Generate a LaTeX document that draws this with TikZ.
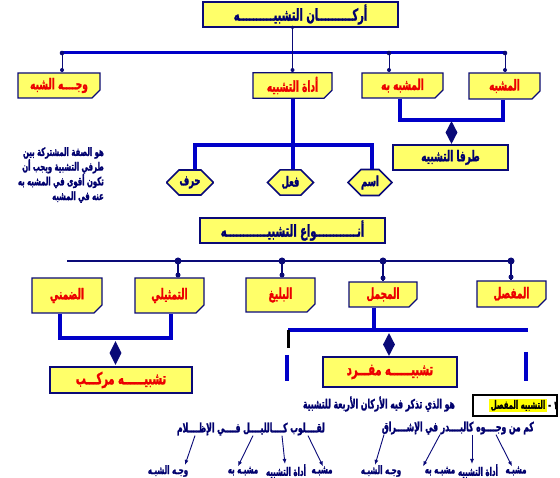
\documentclass[tikz,border=0pt]{standalone}
\usepackage{fontspec}
\usepackage{xcolor}
\usepackage{tikz}
\usetikzlibrary{shapes.misc}
\usetikzlibrary{shapes.geometric}
\usetikzlibrary{arrows.meta}
\TeXXeTstate=1
\newfontfamily\arabicfont[Script=Arabic,FakeStretch=0.6,BoldFeatures={FakeBold=1.5}]{DejaVu Sans}
\newcommand{\artext}[1]{\beginR#1\endR}
\definecolor{boxyellow}{RGB}{255,255,105}
\definecolor{navyline}{RGB}{10,10,120}
\definecolor{barblue}{RGB}{0,0,200}
\definecolor{redtext}{RGB}{235,0,0}
\definecolor{navytext}{RGB}{0,0,110}
\definecolor{hiyellow}{RGB}{255,255,0}
\tikzset{box/.style={draw=navyline,line width=1.3pt,fill=boxyellow,inner sep=0pt,
   text=redtext,font=\arabicfont\bfseries\fontsize{15}{17}\selectfont},
 notebox/.style={box,chamfered rectangle,chamfered rectangle corners=south east,
   chamfered rectangle xsep=4pt,chamfered rectangle ysep=4pt,
   path picture={\draw[navyline,line width=0.8pt,fill=boxyellow!50!white]
     ([xshift=-4pt]path picture bounding box.south east) -- ++(0pt,4pt) -- ++(4pt,0pt);}},
 plainbox/.style={box,rectangle,line width=1.6pt},
 bigbox/.style={plainbox,font=\arabicfont\bfseries\fontsize{16.5}{18}\selectfont},
 octo/.style={box,chamfered rectangle,chamfered rectangle xsep=7pt,chamfered rectangle ysep=6pt,
   line width=1.6pt,minimum width=46pt,minimum height=25pt,text=navytext,
   font=\arabicfont\bfseries\fontsize{14}{16}\selectfont},
 bar/.style={draw=barblue,line width=4pt},
 topbar/.style={draw=barblue,line width=3pt},
 thinline/.style={draw=navyline,line width=1pt},
 rowline/.style={draw=navyline,line width=2pt},
 stub/.style={draw=navyline,line width=2.5pt},
 diam/.style={diamond,fill=navyline,inner sep=0pt,minimum width=12pt,minimum height=23pt},
 arr/.style={draw=navyline,line width=0.9pt,-{Latex[length=5pt,width=4pt]}},
 bluetext/.style={text=navytext,inner sep=0pt,font=\arabicfont\bfseries\fontsize{12.8}{14}\selectfont},
 labeltext/.style={bluetext,font=\arabicfont\bfseries\fontsize{11.7}{13}\selectfont},
 }

\begin{document}
\begin{tikzpicture}[x=1pt,y=-1pt]
        \fill[white] (0,0) rectangle (560,478);
        \useasboundingbox (0,0) rectangle (560,478);
        % top row
        \node[bigbox,text=navytext,minimum width=195pt,minimum height=25pt] (arkan) at (300.5,14.5) {\artext{أركــــــــــان التشبيــــــــــه}};
        \node[notebox,minimum width=82pt,minimum height=25pt] (wajh) at (59,85.5) {\artext{وجــــه الشبه}};
        \node[notebox,minimum width=79pt,minimum height=25pt] (adah) at (292.5,85.5) {\artext{أداة التشبيه}};
        \node[notebox,minimum width=81pt,minimum height=25pt] (mbih) at (402.5,85.5) {\artext{المشبه به}};
        \node[notebox,minimum width=71pt,minimum height=26pt] (mush) at (504.5,86) {\artext{المشبه}};
        \coordinate (topL) at (62,53);
        \coordinate (topM) at (389,53);
        \coordinate (topR) at (505,53);
        \draw[topbar] (topL) -- (topR);
        \draw[thinline] (topL) -- (topL |- wajh.north);
        \draw[thinline] (topM) -- (topM |- mbih.north);
        \draw[thinline] (topR) -- (topR |- mush.north);
        \draw[thinline] (adah.north |- arkan.south) -- (adah.north);
        \fill[navyline] (topL) circle (2.3pt);
        \fill[navyline] (topM) circle (2.3pt);
        \fill[navyline] (topR) circle (2.3pt);
        \fill[navyline] (62,70) circle (2pt);
        \fill[navyline] (389,70) circle (2pt);
        \fill[navyline] (505,70) circle (2pt);
        \fill[navyline] (292.5,70) circle (2pt);
        \fill[navyline] (292.5,27.5) circle (1.8pt);
        % two sides
        \draw[bar] (mbih.south -| 400,0) |- (503,120) -- (mush.south -| 503,0);
        \node[diam] (dtaraf) at (451.5,132.5) {};
        \node[plainbox,text=navytext,minimum width=115pt,minimum height=25pt] (taraf) at (450.5,157.5) {\artext{طرفا التشبيه}};
        % tool
        \node[octo] (harf) at (190,182.5) {\artext{حرف}};
        \node[octo] (fiil) at (290.5,182.5) {\artext{فعل}};
        \node[octo,minimum width=44pt] (ism) at (370,182.5) {\artext{اسم}};
        \draw[bar] (adah.south) -- (adah.south |- fiil.north);
        \draw[bar] (harf.north -| 195,0) |- (372,145) -- (ism.north -| 372,0);
        \node[bluetext,align=right,anchor=north east,
          font=\arabicfont\bfseries\fontsize{11.5}{14.7}\selectfont] (desc) at (104,147)
          {\artext{هو الصفة المشتركة بين}\\\artext{طرفي التشبية ويجب أن}\\\artext{تكون أقوى في المشبه به}\\\artext{عنه في المشبه}};
        % kinds
        \node[bigbox,text=navytext,minimum width=185pt,minimum height=25pt] (anwa) at (292.5,230.5) {\artext{أنــــــــــــواع التشبيــــــــــــه}};
        \node[notebox,minimum width=70pt,minimum height=35pt] (dimni) at (67,295.5) {\artext{الضمني}};
        \node[notebox,minimum width=69pt,minimum height=35pt] (tamth) at (169.5,295.5) {\artext{التمثيلي}};
        \node[notebox,minimum width=69pt,minimum height=34pt] (baligh) at (280.5,295) {\artext{البليغ}};
        \node[notebox,minimum width=68pt,minimum height=25pt] (mujmal) at (383,294.5) {\artext{المجمل}};
        \node[notebox,minimum width=69pt,minimum height=26pt] (mufas) at (511.5,294) {\artext{المفصل}};
        \coordinate (rowL) at (67,261);
        \coordinate (rowR) at (511,261);
        \draw[rowline] (rowL) -- (rowR);
        \draw[stub] (178,261) -- (tamth.north -| 178,0);
        \draw[stub] (282,261) -- (baligh.north -| 282,0);
        \draw[stub] (383,261) -- (mujmal.north);
        \draw[stub] (rowR) -- (mufas.north -| 511,0);
        \fill[navyline] (178,261) circle (3.5pt);
        \fill[navyline] (282,261) circle (3.5pt);
        \fill[navyline] (383,261) circle (3.5pt);
        \fill[navyline] (rowR) circle (3.5pt);
        \fill[navyline] (178,275) circle (2.5pt);
        \fill[navyline] (282,275) circle (2.5pt);
        \fill[navyline] (383,278) circle (2.5pt);
        \fill[navyline] (511,277) circle (2.5pt);
        % compound
        \draw[bar] (dimni.south -| 60,0) |- (171,338) -- (tamth.south -| 171,0);
        \node[diam,minimum height=24pt] (dmurak) at (115.5,353) {};
        \node[bigbox,minimum width=142pt,minimum height=26pt] (murak) at (121,380) {\artext{تشبيــــــه مركـــب}};
        % single
        \draw[bar] (mujmal.south -| 374,0) -- (374,330);
        \draw[bar] (288,330) -- (528,330);
        \draw[black,line width=3pt] (288,330) -- (288,348);
        \draw[bar] (287,355) -- (287,381);
        \draw[bar] (526,352) -- (526,381);
        \node[diam] (dmufrad) at (389,344.5) {};
        \node[bigbox,minimum width=134pt,minimum height=30pt] (mufrad) at (390,372) {\artext{تشبيــــــه مفـــرد}};
        % example
        \node[draw=black,line width=1.3pt,minimum width=84pt,minimum height=21pt] (head) at (515,405.5) {};
        \node[fill=hiyellow,inner sep=1.5pt,anchor=east,text=black,
          font=\arabicfont\bfseries\fontsize{11.5}{13}\selectfont] (headhl) at (547,405.5) {\artext{التشبيه المفصل}};
        \node[inner sep=0pt,anchor=west,text=black,
          font=\arabicfont\bfseries\fontsize{11.5}{13}\selectfont] (headnum) at (548,405.5) {\artext{١ -}};
        \node[bluetext,anchor=east] (defn) at (455,404) {\artext{هو الذي تذكر فيه الأركان الأربعة للتشبية}};
        \node[bluetext,anchor=east] (poemR) at (534,428) {\artext{كم من وجــــوه كالبــــدر في الإشــــراق}};
        \node[bluetext,anchor=east] (poemL) at (325,429) {\artext{لقــــلوب كــــالليــــل فــــي الإظــــلام}};
        \node[labeltext] (mushR) at (516,471) {\artext{مشبـه}};
        \node[labeltext] (adahR) at (478,471) {\artext{أداة التشبيه}};
        \node[labeltext] (mbR) at (440,471) {\artext{مشبـه به}};
        \node[labeltext] (wajhR) at (381,471) {\artext{وجـه الشبـه}};
        \node[labeltext] (mushL) at (322,471) {\artext{مشبـه}};
        \node[labeltext] (adahL) at (286,471) {\artext{أداة التشبيه}};
        \node[labeltext] (mbL) at (243,471) {\artext{مشبـه به}};
        \node[labeltext] (wajhL) at (168,471) {\artext{وجـه الشبـه}};
        \draw[arr] (poemR.south -| 496,0) -- (mushR.north -| 512,0);
        \draw[arr] (poemR.south -| 472,0) -- (adahR.north -| 472,0);
        \draw[arr] (poemR.south -| 440,0) -- (mbR.north -| 423,0);
        \draw[arr] (poemR.south -| 384,0) -- (wajhR.north -| 375,0);
        \draw[arr] (poemL.south -| 308,0) -- (mushL.north -| 323,0);
        \draw[arr] (poemL.south -| 282,0) -- (adahL.north -| 285,0);
        \draw[arr] (poemL.south -| 253,0) -- (mbL.north -| 238,0);
        \draw[arr] (poemL.south -| 195,0) -- (wajhL.north -| 185,0);
    \end{tikzpicture}
\end{document}
